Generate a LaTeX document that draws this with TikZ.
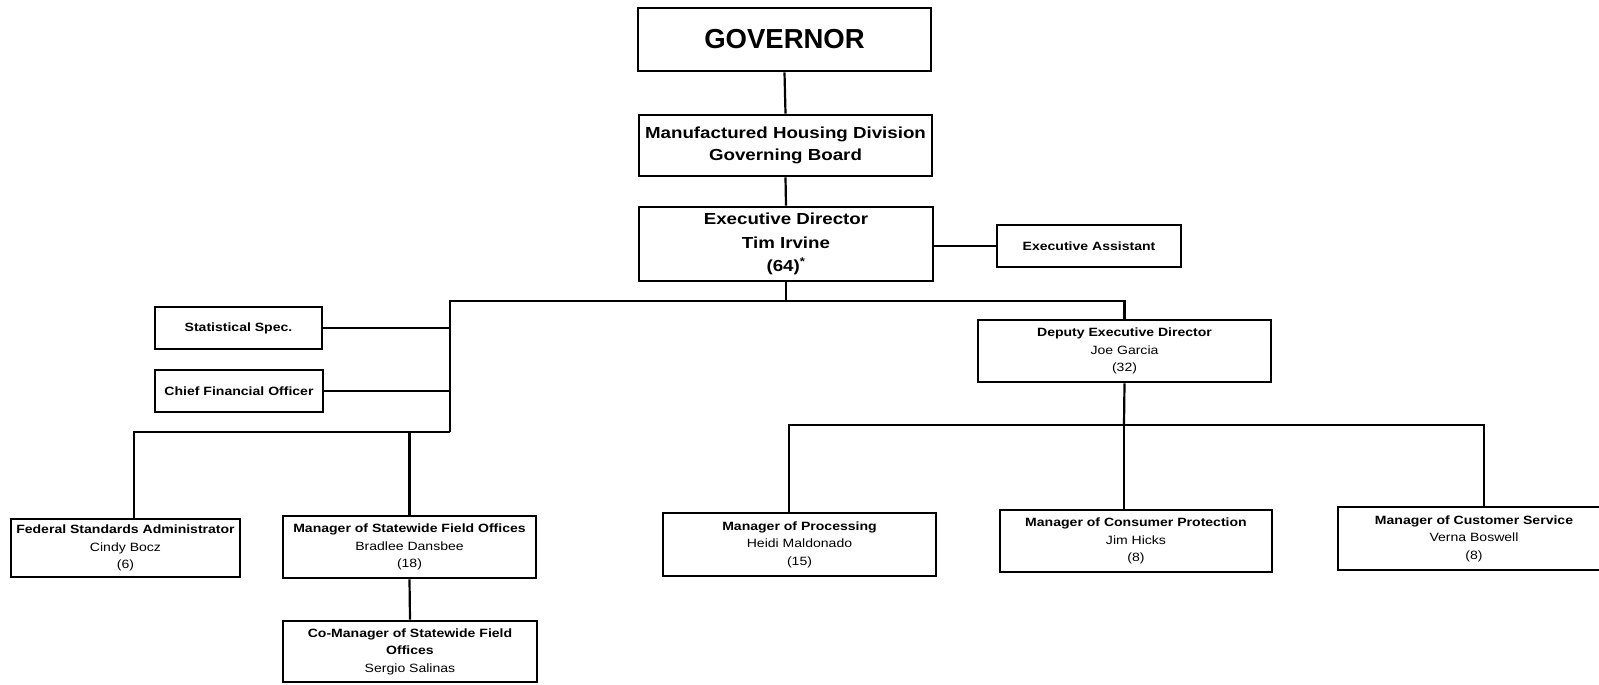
\documentclass[tikz,border=0pt]{standalone}
\usepackage{fontspec}
\setmainfont{Liberation Sans}
\newfontfamily\ff[FakeStretch=1.17]{Liberation Sans}
\newfontfamily\fg{Liberation Sans}
\tikzset{
  box/.style={draw, line width=2.6pt, inner sep=0pt, align=center, anchor=center},
  topbox/.style={box, font=\ff\bfseries\fontsize{16}{22.5}\selectfont},
  lowbox/.style={box, font=\ff\fontsize{12}{17.5}\selectfont},
  conn/.style={line width=2.2pt}
}
\begin{document}
\begin{tikzpicture}[x=1pt,y=1pt]
\path[use as bounding box, clip] (0,0) rectangle (1599,-685);
\fill[white] (0,0) rectangle (1599,-685);

% top column
\node[box, minimum width=293, minimum height=63, font=\fg\bfseries\fontsize{27.5}{30}\selectfont] (gov) at (784.5,-39.5) {GOVERNOR};
\node[topbox, minimum width=293, minimum height=61] (board) at (785.5,-145.5) {Manufactured Housing Division\\Governing Board};
\node[topbox, minimum width=294, minimum height=74, font=\ff\bfseries\fontsize{16}{23.5}\selectfont] (exec) at (786,-244) {Executive Director\\Tim Irvine\\(64)\textsuperscript{*}};
\node[lowbox, minimum width=184, minimum height=42] (assist) at (1089,-246) {\bfseries Executive Assistant};

% left staff
\node[lowbox, minimum width=167, minimum height=42] (stat) at (238.5,-328) {\bfseries Statistical Spec.};
\node[lowbox, minimum width=168, minimum height=42] (cfo) at (239,-391) {\bfseries Chief Financial Officer};

% deputy
\node[lowbox, minimum width=293, minimum height=62] (deputy) at (1124.5,-351) {\textbf{Deputy Executive Director}\\Joe Garcia\\(32)};

% lower left
\node[lowbox, minimum width=229, minimum height=58] (fed) at (125.5,-548) {\textbf{Federal Standards Administrator}\\Cindy Bocz\\(6)};
\node[lowbox, minimum width=253, minimum height=62] (mgrsw) at (409.5,-547) {\textbf{Manager of Statewide Field Offices}\\Bradlee Dansbee\\(18)};
\node[lowbox, minimum width=254, minimum height=61] (comgr) at (410,-651.5) {\textbf{Co-Manager of Statewide Field}\\\textbf{Offices}\\Sergio Salinas};

% lower right
\node[lowbox, minimum width=273, minimum height=63] (proc) at (799.5,-544.5) {\textbf{Manager of Processing}\\Heidi Maldonado\\(15)};
\node[lowbox, minimum width=272, minimum height=62] (cons) at (1136,-541) {\textbf{Manager of Consumer Protection}\\Jim Hicks\\(8)};
\node[lowbox, minimum width=272, minimum height=63] (cust) at (1474,-538.5) {\textbf{Manager of Customer Service}\\Verna Boswell\\(8)};

% junctions
\coordinate (busT) at (786,-301);
\coordinate (busLL) at (450,-432);
\coordinate (busB) at (1124,-425);

% connectors
\draw[conn] (gov.south) -- (board.north);
\draw[conn] (board.south) -- (exec.north);
\draw[conn] (assist.west -| exec.east) -- (assist.west);
\draw[conn] (exec.south) -- (busT);
\draw[conn] (busT) -| (deputy.north);
\draw[conn] (busT) -| (busLL);
\draw[conn] (stat.east) -- (stat.east -| busLL);
\draw[conn] (cfo.east) -- (cfo.east -| busLL);
\draw[conn] (busLL) -| ([xshift=8.5pt]fed.north);
\draw[conn] (busLL -| mgrsw.north) -- (mgrsw.north);
\draw[conn] (mgrsw.south) -- (comgr.north);
\draw[conn] (deputy.south) -- (busB);
\draw[conn] (busB) -| ([xshift=-10.5pt]proc.north);
\draw[conn] (busB) -| ([xshift=10pt]cust.north);
\draw[conn] (busB) -- (busB |- cons.north);
\end{tikzpicture}
\end{document}
